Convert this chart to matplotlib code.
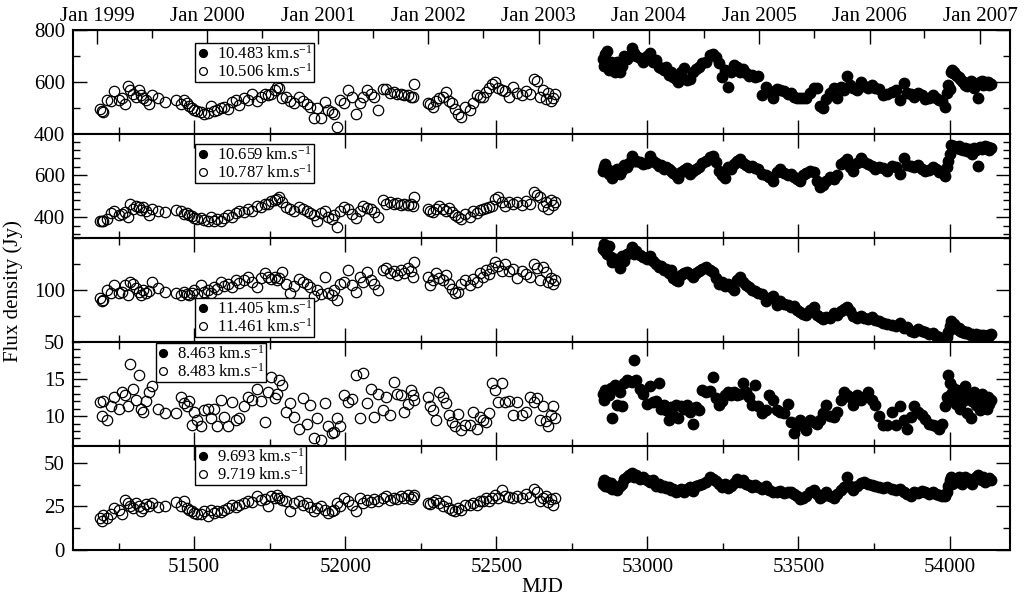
import matplotlib.pyplot as plt
from matplotlib.ticker import MultipleLocator, FixedLocator
import numpy as np

plt.rcParams['font.family'] = ['Liberation Serif', 'DejaVu Serif']
plt.rcParams['mathtext.fontset'] = 'custom'
plt.rcParams['mathtext.rm'] = 'Liberation Serif'
plt.rcParams['mathtext.default'] = 'regular'

# observation epochs (MJD), first campaign (open) and second campaign (filled)
mjd_early = np.array([
    51190, 51194, 51200, 51212, 51225, 51236, 51250, 51262, 51272, 51280,
    51288, 51298, 51308, 51316, 51324, 51332, 51342, 51352, 51362, 51380,
    51405, 51440, 51455, 51468, 51476, 51484, 51492, 51500, 51510, 51522,
    51534, 51546, 51556, 51566, 51576, 51588, 51600, 51612, 51625, 51638,
    51650, 51664, 51678, 51692, 51708, 51722, 51735, 51746, 51756, 51766,
    51774, 51782, 51792, 51805, 51818, 51832, 51846, 51860, 51872, 51884,
    51896, 51908, 51920, 51932, 51944, 51956, 51964, 51972, 51984, 51996,
    52008, 52022, 52036, 52048, 52060, 52072, 52084, 52096, 52108, 52124,
    52136, 52148, 52160, 52172, 52184, 52196, 52208, 52218, 52224, 52228,
    52274, 52282, 52292, 52302, 52312, 52322, 52332, 52342, 52352, 52362,
    52372, 52384, 52398, 52412, 52424, 52436, 52446, 52456, 52466, 52476,
    52486, 52496, 52506, 52518, 52530, 52542, 52556, 52570, 52584, 52598,
    52612, 52624, 52636, 52646, 52656, 52664, 52672, 52680, 52688, 52694])

mjd_late = np.array([
    52852, 52856, 52860, 52866, 52872, 52878, 52884, 52892, 52900, 52908,
    52916, 52924, 52932, 52940, 52948, 52956, 52964, 52974, 52986, 52998,
    53010, 53020, 53030, 53038, 53046, 53054, 53062, 53070, 53078, 53086,
    53094, 53102, 53112, 53122, 53132, 53140, 53150, 53160, 53170, 53182,
    53194, 53206, 53216, 53226, 53236, 53246, 53256, 53266, 53276, 53286,
    53296, 53306, 53316, 53326, 53336, 53346, 53356, 53366, 53378, 53392,
    53404, 53416, 53428, 53440, 53452, 53464, 53476, 53486, 53496, 53506,
    53516, 53526, 53538, 53550, 53560, 53570, 53580, 53592, 53604, 53616,
    53628, 53640, 53650, 53660, 53670, 53682, 53694, 53706, 53718, 53730,
    53742, 53754, 53766, 53780, 53794, 53808, 53822, 53836, 53848, 53860,
    53872, 53884, 53896, 53908, 53920, 53932, 53944, 53956, 53966, 53976,
    53984, 53990, 53995, 54000, 54004, 54008, 54012, 54016, 54020, 54025,
    54030, 54035, 54040, 54046, 54052, 54058, 54064, 54070, 54076, 54082,
    54088, 54094, 54100, 54106, 54112, 54118, 54124, 54128, 54132, 54136])

# velocity of each channel (km/s)
vel_filled = ['10.483', '10.659', '11.405', '8.463', '9.693']
vel_open = ['10.506', '10.787', '11.461', '8.483', '9.719']

# flux density (Jy)
flux1_open = [
    498, 490, 487, 534, 530, 568, 534, 540, 516, 586,
    570, 557, 545, 570, 550, 540, 534, 515, 550, 540,
    525, 534, 516, 534, 520, 508, 500, 493, 488, 487,
    480, 482, 508, 490, 493, 500, 506, 496, 525, 534,
    512, 540, 534, 557, 530, 545, 557, 550, 557, 570,
    583, 580, 538, 545, 528, 519, 545, 530, 515, 506,
    461, 500, 461, 525, 493, 485, 480, 428, 532, 520,
    570, 544, 480, 519, 545, 570, 557, 545, 493, 573,
    573, 560, 564, 554, 554, 551, 551, 545, 545, 594,
    520, 516, 506, 530, 538, 545, 564, 530, 520, 499,
    480, 467, 506, 493, 519, 551, 545, 545, 564, 580,
    595, 603, 580, 570, 565, 545, 583, 560, 550, 565,
    555, 615, 605, 545, 570, 535, 560, 530, 540, 555]
flux1_filled = [
    690, 665, 710, 720, 648, 680, 660, 640, 680, 640,
    665, 700, 690, 700, 732, 712, 700, 695, 680, 700,
    712, 680, 686, 660, 655, 648, 660, 630, 640, 622,
    615, 603, 640, 654, 609, 615, 641, 650, 660, 674,
    680, 706, 708, 699, 674, 622, 648, 583, 640, 667,
    660, 641, 650, 635, 625, 630, 622, 625, 551, 583,
    565, 538, 575, 570, 565, 555, 560, 545, 540, 540,
    540, 538, 560, 577, 577, 510, 500, 535, 560, 577,
    540, 583, 570, 625, 590, 577, 570, 603, 585, 580,
    590, 577, 575, 551, 555, 564, 570, 532, 596, 560,
    555, 545, 560, 550, 535, 540, 551, 540, 532, 530,
    506, 560, 590, 575, 640, 648, 635, 640, 630, 625,
    620, 615, 605, 600, 590, 585, 595, 605, 600, 580,
    595, 538, 600, 605, 590, 600, 595, 600, 590, 595]

flux2_open = [
    380, 384, 380, 390, 419, 431, 408, 415, 424, 403,
    463, 440, 455, 450, 435, 447, 431, 408, 440, 431,
    424, 435, 431, 416, 420, 410, 405, 398, 392, 395,
    388, 384, 400, 384, 392, 384, 398, 408, 400, 420,
    431, 424, 440, 430, 455, 447, 463, 465, 475, 480,
    487, 494, 470, 447, 440, 431, 447, 440, 430, 420,
    408, 384, 420, 431, 400, 392, 410, 353, 430, 447,
    440, 416, 397, 431, 455, 445, 440, 424, 403, 482,
    465, 471, 462, 467, 460, 463, 458, 465, 455, 494,
    440, 430, 424, 440, 455, 440, 431, 445, 424, 410,
    400, 392, 415, 400, 431, 420, 435, 440, 445, 450,
    455, 487, 494, 470, 455, 471, 465, 470, 460, 475,
    465, 518, 505, 494, 455, 470, 440, 480, 460, 470]
flux2_filled = [
    620, 640, 652, 630, 605, 620, 589, 610, 630, 605,
    625, 650, 640, 660, 691, 670, 668, 665, 655, 660,
    691, 670, 660, 645, 650, 628, 640, 630, 620, 610,
    600, 589, 615, 625, 636, 605, 620, 630, 640, 660,
    668, 685, 691, 665, 620, 600, 589, 640, 630, 652,
    670, 676, 660, 650, 640, 644, 635, 630, 605, 600,
    590, 573, 615, 628, 610, 600, 605, 590, 580, 573,
    600, 612, 620, 615, 573, 542, 555, 570, 590, 580,
    600, 652, 665, 676, 640, 620, 660, 684, 665, 655,
    645, 630, 640, 635, 620, 644, 640, 605, 684, 650,
    645, 640, 650, 630, 620, 625, 640, 630, 615, 620,
    597, 640, 668, 700, 746, 738, 730, 740, 735, 730,
    738, 725, 732, 720, 728, 715, 725, 722, 700, 730,
    720, 644, 735, 725, 730, 738, 728, 735, 720, 730]

flux3_open = [
    92, 89, 90, 100, 97, 105, 97, 98, 105, 95,
    108, 106, 102, 98, 95, 100, 97, 99, 108, 102,
    98, 97, 95, 98, 96, 95, 97, 100, 96, 105,
    98, 100, 97, 103, 101, 108, 104, 106, 103, 110,
    107, 110, 113, 108, 103, 112, 116, 113, 111, 113,
    110, 112, 117, 106, 97, 104, 111, 108, 106, 103,
    94, 100, 96, 113, 97, 95, 100, 90, 106, 108,
    119, 105, 98, 113, 108, 117, 110, 106, 100, 119,
    121, 116, 118, 114, 119, 116, 121, 118, 113, 127,
    113, 105, 110, 116, 112, 110, 114, 106, 101, 97,
    98, 106, 110, 105, 111, 108, 116, 113, 119, 115,
    121, 127, 123, 118, 125, 118, 120, 112, 118, 115,
    113, 125, 121, 110, 122, 117, 108, 112, 106, 110]
flux3_filled = [
    140, 144, 138, 135, 142, 132, 127, 130, 128, 121,
    133, 128, 135, 136, 141, 135, 138, 134, 132, 130,
    133, 128, 125, 122, 123, 119, 120, 116, 119, 112,
    110, 109, 114, 116, 117, 115, 113, 116, 118, 120,
    122, 119, 117, 112, 106, 108, 104, 106, 103, 100,
    110, 113, 108, 105, 103, 100, 99, 97, 96, 89,
    92, 94, 86, 89, 87, 86, 84, 85, 81, 79,
    77, 76, 81, 84, 76, 74, 72, 74, 73, 78,
    76, 80, 82, 84, 80, 75, 73, 75, 73, 72,
    74, 71, 70, 68, 67, 66, 65, 68, 63, 64,
    61, 60, 62, 61, 60, 58, 59, 56, 55, 53,
    51, 55, 60, 65, 70, 68, 66, 67, 64, 62,
    63, 61, 60, 61, 59, 60, 58, 57, 58, 57,
    58, 56, 57, 55, 57, 56, 55, 57, 56, 58]

flux4_open = [
    11.9, 10.0, 12.1, 9.5, 11.3, 12.6, 10.9, 13.2, 12.8, 11.3,
    17.0, 13.6, 12.2, 15.6, 11.0, 10.6, 12.0, 13.3, 14.0, 11.0,
    10.4, 10.4, 12.6, 11.7, 11.3, 12.1, 8.8, 10.6, 9.5, 8.6,
    10.8, 11.0, 9.7, 10.9, 8.6, 12.2, 9.9, 8.6, 11.9, 9.5,
    9.8, 11.3, 12.6, 12.2, 13.7, 12.0, 9.2, 13.3, 15.3, 12.4,
    13.0, 14.9, 14.2, 10.6, 11.7, 9.9, 8.2, 12.4, 8.9, 11.5,
    7.1, 9.8, 6.8, 11.8, 8.6, 7.7, 7.8, 9.7, 8.6, 12.8,
    11.9, 12.3, 15.5, 9.7, 15.8, 11.7, 13.7, 9.9, 13.0, 10.8,
    12.6, 10.1, 14.6, 13.0, 12.8, 10.6, 11.6, 13.5, 12.8, 12.2,
    12.6, 11.3, 10.8, 9.5, 13.2, 12.6, 11.7, 10.1, 9.2, 8.6,
    10.3, 8.1, 8.8, 8.8, 10.6, 8.2, 9.9, 9.5, 9.2, 10.4,
    14.4, 13.5, 11.9, 14.4, 11.9, 12.0, 10.1, 11.9, 10.1, 10.6,
    12.6, 11.9, 12.4, 9.5, 11.3, 9.4, 8.6, 10.1, 11.3, 9.8]
flux4_filled = [
    13.0, 12.2, 13.5, 13.3, 12.8, 13.8, 9.8, 14.2, 11.5, 13.3,
    11.3, 14.4, 14.9, 14.7, 14.6, 17.6, 14.9, 13.7, 13.0, 11.6,
    14.0, 11.9, 12.0, 14.4, 11.0, 11.5, 10.8, 9.5, 11.2, 10.2,
    11.5, 9.7, 11.3, 10.9, 11.5, 10.6, 9.0, 11.2, 10.8, 13.5,
    13.3, 13.4, 15.3, 12.4, 11.5, 12.0, 12.8, 13.3, 12.8, 13.3,
    12.8, 13.0, 14.4, 13.2, 12.6, 11.5, 14.2, 11.3, 10.4, 10.8,
    12.8, 12.2, 10.8, 10.6, 10.4, 11.6, 9.2, 7.7, 8.6, 9.5,
    9.0, 8.1, 9.5, 9.2, 9.0, 9.5, 10.4, 11.5, 10.0, 9.9,
    10.6, 12.2, 13.3, 12.8, 12.6, 11.5, 12.8, 12.2, 12.6, 13.2,
    12.2, 11.5, 10.0, 8.8, 8.8, 10.5, 8.8, 11.3, 9.5, 8.3,
    9.9, 11.3, 10.6, 10.2, 9.6, 9.0, 8.8, 8.6, 8.3, 9.0,
    11.3, 12.6, 15.5, 14.4, 13.0, 12.2, 13.8, 12.5, 11.6, 13.5,
    12.8, 11.0, 13.2, 12.0, 14.0, 10.4, 12.8, 9.7, 12.0, 13.3,
    11.5, 12.6, 10.8, 13.0, 11.8, 12.4, 10.9, 12.6, 11.6, 12.2]

flux5_open = [
    18, 16.5, 20, 18.4, 20.5, 24, 23, 20.6, 28.8, 27,
    25, 24, 27, 25, 22, 24, 26.5, 25, 27, 24.5,
    25, 27.3, 25, 27.8, 24, 23, 22, 21, 20.3, 20.5,
    22, 19.3, 23, 21, 22.5, 21.6, 23, 24, 26, 24.5,
    26, 27, 28, 27.5, 30.7, 28.8, 29.5, 25, 31, 29.7,
    31.6, 30, 28.5, 27.8, 22, 27, 27.8, 26, 27, 24.5,
    22, 24, 25, 23, 21, 22.5, 23, 27, 25, 29.7,
    28, 26, 22, 29.7, 27, 28.5, 27.5, 29, 28, 30,
    31, 28.8, 30, 29.5, 31, 30, 31.6, 29.5, 30.5, 31.6,
    27, 26.5, 27.5, 28.8, 27, 25, 28, 24, 23, 22,
    24, 23, 26, 25.5, 27, 26, 28, 27.8, 29.7, 28,
    30, 31.6, 30, 34.5, 31, 30.5, 29.7, 31, 30, 32,
    30.5, 35, 33, 28, 30, 31, 27.5, 29, 26, 30]
flux5_filled = [
    38, 40, 37, 39, 36, 38.5, 35, 36, 34.5, 37,
    38, 41, 42, 43, 44, 42, 43, 41, 42, 40,
    39, 40, 37, 38, 36, 37, 35.5, 36, 34.5, 35,
    33, 34, 35, 33.5, 35, 36, 34, 36.5, 37.3, 38,
    39, 42, 41, 39.5, 38, 36, 38, 35.4, 37, 38.5,
    41, 39, 40, 38, 37.5, 36, 37.5, 36, 35, 37,
    34.5, 33.5, 33, 34, 32.6, 33.5, 33, 32, 30.7, 29.5,
    30, 31, 33, 34.5, 32, 30, 31, 33, 31, 29.7,
    32, 34.5, 36, 42, 37, 34.5, 37, 38.5, 39, 38,
    37.3, 37, 36, 35.5, 36, 35, 34.5, 35, 33, 32,
    31, 33, 32.5, 34, 33, 32, 33.5, 32, 31.6, 30.7,
    31, 33, 37, 40, 42, 38, 41, 40, 39, 41,
    42, 40, 38, 41, 42, 39.5, 41, 40, 38, 41,
    42, 43, 41, 40, 42, 39, 41, 40, 41.5, 40]

# calendar axis on top
jan_mjd = [51179, 51544, 51910, 52275, 52640, 53005, 53371, 53736, 54101]
jan_labels = ['Jan 1999', 'Jan 2000', 'Jan 2001', 'Jan 2002', 'Jan 2003',
              'Jan 2004', 'Jan 2005', 'Jan 2006', 'Jan 2007']
jul_mjd = [51360, 51726, 52091, 52456, 52821, 53187, 53552, 53917]

open_sets = [flux1_open, flux2_open, flux3_open, flux4_open, flux5_open]
filled_sets = [flux1_filled, flux2_filled, flux3_filled, flux4_filled, flux5_filled]
ylims = [(400, 800), (300, 795), (50, 150), (6, 20), (0, 60)]
ymajor = [[400, 600, 800], [400, 600], [50, 100], [10, 15], [0, 25, 50]]
yminor = [100, 40, 25, 1, 12.5]
leg_pos = [(0.130, 0.877), (0.130, 0.904), (0.130, 0.42), (0.088, 0.99), (0.130, 0.995)]

fig, axes = plt.subplots(5, 1, sharex=True, figsize=(10.29, 5.98), dpi=100)
fig.subplots_adjust(left=0.0712, right=0.9815, top=0.949, bottom=0.081, hspace=0)

for i, ax in enumerate(axes):
    ax.plot(mjd_late, filled_sets[i], 'o', ms=7.5, color='black',
            label=vel_filled[i] + ' km.s$^{-1}$')
    ax.plot(mjd_early, open_sets[i], 'o', ms=7.5, mfc='none', mec='black', mew=0.9,
            label=vel_open[i] + ' km.s$^{-1}$')
    ax.set_xlim(51100, 54200)
    ax.set_ylim(*ylims[i])
    ax.yaxis.set_major_locator(FixedLocator(ymajor[i]))
    ax.yaxis.set_minor_locator(MultipleLocator(yminor[i]))
    ax.xaxis.set_major_locator(MultipleLocator(500))
    ax.xaxis.set_minor_locator(MultipleLocator(250))
    ax.tick_params(which='both', direction='in', top=True, right=True, labelsize=15, pad=6)
    ax.tick_params(which='major', length=10, width=1)
    ax.tick_params(which='minor', length=5, width=1)
    for sp in ax.spines.values():
        sp.set_linewidth(1.5)
    leg = ax.legend(loc='upper left', bbox_to_anchor=leg_pos[i], fontsize=12,
                    frameon=True, fancybox=False, edgecolor='black', framealpha=1,
                    borderpad=0.1, labelspacing=0.0, handlelength=0.7,
                    handletextpad=0.5, borderaxespad=0, markerscale=0.75)
    leg.get_frame().set_linewidth(1.0)

axes[0].tick_params(which='both', top=False)
top = axes[0].secondary_xaxis('top')
top.set_xticks(jan_mjd, labels=jan_labels)
top.xaxis.set_minor_locator(FixedLocator(jul_mjd))
top.tick_params(which='both', direction='in', labelsize=15, pad=3)
top.tick_params(which='major', length=10, width=1)
top.tick_params(which='minor', length=6, width=1)

fig.text(0.013, 0.513, 'Flux density (Jy)', rotation=90, ha='center', va='center', fontsize=15)
fig.text(0.527, 0.018, 'MJD', ha='center', va='center', fontsize=15)

fig.savefig('out.png', dpi=100)
